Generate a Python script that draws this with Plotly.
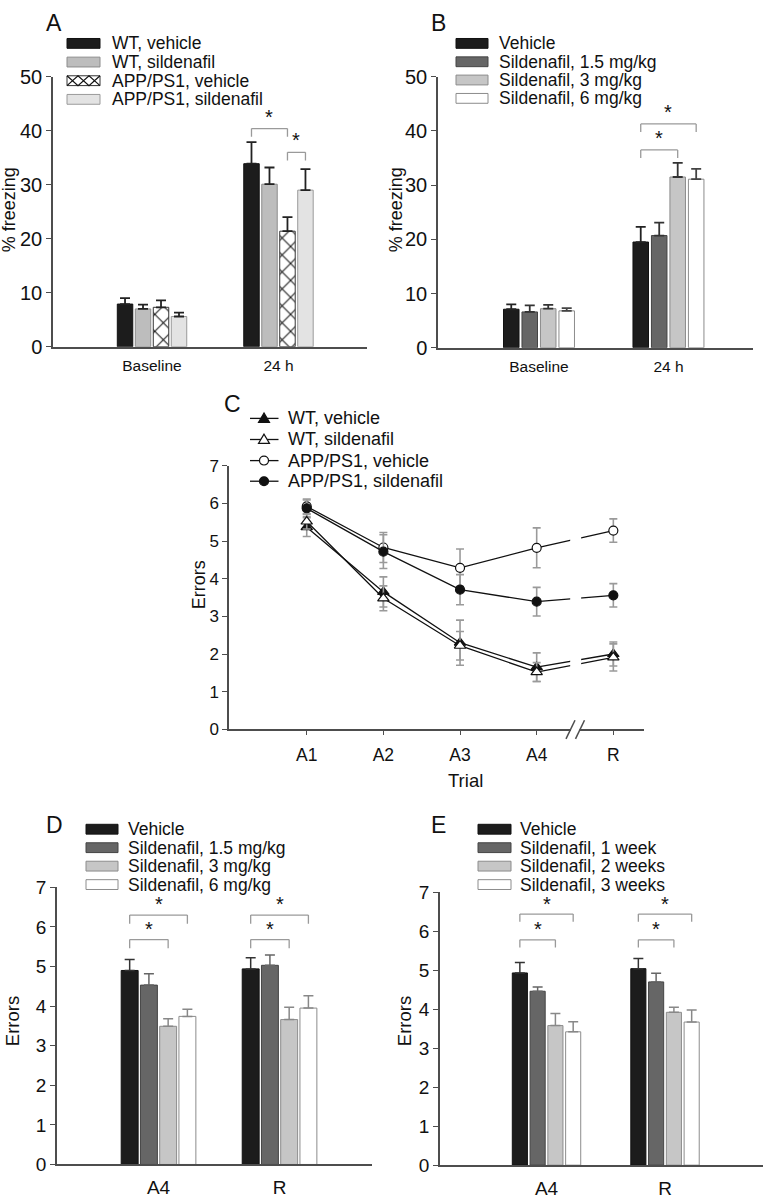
import plotly.graph_objects as go

W, H = 764, 1200
FONT = "Arial, 'Liberation Sans', Helvetica, sans-serif"
INK = "#111111"
AXIS = "#4d4d4d"
BRACKET = "#9a9a9a"

# ---------------- Panel A data (% freezing) ----------------
a_categories = ["Baseline", "24 h"]
a_names = ["WT, vehicle", "WT, sildenafil", "APP/PS1, vehicle", "APP/PS1, sildenafil"]
a_wt_vehicle = [7.9, 33.9]
a_wt_vehicle_sem = [1.1, 4.0]
a_wt_sildenafil = [7.0, 30.1]
a_wt_sildenafil_sem = [0.8, 3.1]
a_app_vehicle = [7.3, 21.4]
a_app_vehicle_sem = [1.3, 2.6]
a_app_sildenafil = [5.6, 29.0]
a_app_sildenafil_sem = [0.7, 3.9]
a_brackets = [("24 h", 0, 2, 40.4), ("24 h", 2, 3, 36.0)]
a_yticks = [0, 10, 20, 30, 40, 50]

# ---------------- Panel B data (% freezing) ----------------
b_categories = ["Baseline", "24 h"]
b_names = ["Vehicle", "Sildenafil, 1.5 mg/kg", "Sildenafil, 3 mg/kg", "Sildenafil, 6 mg/kg"]
b_vehicle = [7.1, 19.5]
b_vehicle_sem = [0.9, 2.8]
b_sild_15 = [6.6, 20.7]
b_sild_15_sem = [1.2, 2.4]
b_sild_3 = [7.2, 31.5]
b_sild_3_sem = [0.7, 2.6]
b_sild_6 = [6.8, 31.1]
b_sild_6_sem = [0.5, 1.9]
b_brackets = [("24 h", 0, 2, 36.5), ("24 h", 0, 3, 41.3)]
b_yticks = [0, 10, 20, 30, 40, 50]

# ---------------- Panel C data (errors per trial) ----------------
c_trials = ["A1", "A2", "A3", "A4", "R"]
c_names = ["WT, vehicle", "WT, sildenafil", "APP/PS1, vehicle", "APP/PS1, sildenafil"]
c_wt_vehicle = [5.37, 3.65, 2.30, 1.65, 2.00]
c_wt_vehicle_sem = [0.25, 0.40, 0.60, 0.38, 0.32]
c_wt_sildenafil = [5.52, 3.48, 2.22, 1.52, 1.91]
c_wt_sildenafil_sem = [0.20, 0.33, 0.38, 0.25, 0.36]
c_app_vehicle = [5.92, 4.83, 4.29, 4.82, 5.28]
c_app_vehicle_sem = [0.20, 0.40, 0.50, 0.53, 0.31]
c_app_sildenafil = [5.87, 4.72, 3.71, 3.39, 3.56]
c_app_sildenafil_sem = [0.22, 0.45, 0.40, 0.38, 0.31]
c_yticks = [0, 1, 2, 3, 4, 5, 6, 7]

# ---------------- Panel D data (errors, dose) ----------------
d_categories = ["A4", "R"]
d_names = ["Vehicle", "Sildenafil, 1.5 mg/kg", "Sildenafil, 3 mg/kg", "Sildenafil, 6 mg/kg"]
d_vehicle = [4.90, 4.94]
d_vehicle_sem = [0.28, 0.28]
d_sild_15 = [4.53, 5.03]
d_sild_15_sem = [0.29, 0.26]
d_sild_3 = [3.49, 3.66]
d_sild_3_sem = [0.19, 0.31]
d_sild_6 = [3.74, 3.95]
d_sild_6_sem = [0.18, 0.31]
d_brackets = [("A4", 0, 2, 5.68), ("A4", 0, 3, 6.30), ("R", 0, 2, 5.68), ("R", 0, 3, 6.30)]
d_yticks = [0, 1, 2, 3, 4, 5, 6, 7]

# ---------------- Panel E data (errors, duration) ----------------
e_categories = ["A4", "R"]
e_names = ["Vehicle", "Sildenafil, 1 week", "Sildenafil, 2 weeks", "Sildenafil, 3 weeks"]
e_vehicle = [4.93, 5.04]
e_vehicle_sem = [0.27, 0.26]
e_sild_1w = [4.46, 4.70]
e_sild_1w_sem = [0.11, 0.22]
e_sild_2w = [3.58, 3.92]
e_sild_2w_sem = [0.31, 0.13]
e_sild_3w = [3.42, 3.67]
e_sild_3w_sem = [0.26, 0.31]
e_brackets = [("A4", 0, 2, 5.78), ("A4", 0, 3, 6.44), ("R", 0, 2, 5.78), ("R", 0, 3, 6.44)]
e_yticks = [0, 1, 2, 3, 4, 5, 6, 7]


def px(x):
    return x / W


def py(y):
    return 1 - y / H


fig = go.Figure()
shapes = []
annotations = []


def label(x, y, text, size, xanchor="center", yanchor="middle", **kw):
    d = dict(x=px(x), y=py(y), xref="paper", yref="paper", text=text, showarrow=False,
             xanchor=xanchor, yanchor=yanchor, font=dict(family=FONT, size=size, color=INK))
    d.update(kw)
    annotations.append(d)


HATCH = dict(shape="x", fgcolor="#111111", bgcolor="white", size=12, solidity=0.16, fillmode="replace")


def bar_panel(sfx, cats, names, series, sems, fills, outlines, errcolors, patterns,
              gap, groupgap, err_thick, err_w, brackets, drop, star_dy):
    n = len(series)
    slot = (1 - gap) / n
    width = slot * (1 - groupgap)
    centers = []
    for k in range(n):
        offset = -(1 - gap) / 2 + k * slot + slot * groupgap / 2
        centers.append(offset + width / 2)
        marker = dict(color=fills[k], line=dict(color=outlines[k], width=1))
        if patterns[k]:
            marker["pattern"] = patterns[k]
        fig.add_trace(go.Bar(
            x=cats, y=series[k], name=names[k], width=width, offset=offset, marker=marker,
            error_y=dict(type="data", symmetric=False, array=sems[k], arrayminus=[0] * len(cats),
                         color=errcolors[k], thickness=err_thick, width=err_w),
            xaxis="x" + sfx, yaxis="y" + sfx, showlegend=False))
    for cat, i, j, level in brackets:
        c = cats.index(cat)
        xi, xj = c + centers[i], c + centers[j]
        for x0, y0, x1, y1 in [(xi, level - drop, xi, level), (xi, level, xj, level),
                               (xj, level, xj, level - drop)]:
            shapes.append(dict(type="line", xref="x" + sfx, yref="y" + sfx, x0=x0, y0=y0, x1=x1, y1=y1,
                               line=dict(color=BRACKET, width=1.3)))
        annotations.append(dict(x=(xi + xj) / 2, y=level + star_dy, xref="x" + sfx, yref="y" + sfx,
                                text="*", showarrow=False, xanchor="center", yanchor="middle",
                                font=dict(family=FONT, size=20, color=INK)))


def bar_legend(x0, x1, xt, rows, names, fills, outlines, hatch, size):
    for k, (yc, name) in enumerate(zip(rows, names)):
        shapes.append(dict(type="rect", xref="paper", yref="paper", x0=px(x0), x1=px(x1),
                           y0=py(yc + 5), y1=py(yc - 5), fillcolor=fills[k],
                           line=dict(color=outlines[k], width=1)))
        if hatch[k]:
            w = (x1 - x0) / 3
            top, bot = yc - 5, yc + 5
            p1 = "M{},{}".format(px(x0), py(top))
            p2 = "M{},{}".format(px(x0), py(bot))
            for s in range(3):
                yy1 = bot if s % 2 == 0 else top
                yy2 = top if s % 2 == 0 else bot
                p1 += " L{},{}".format(px(x0 + w * (s + 1)), py(yy1))
                p2 += " L{},{}".format(px(x0 + w * (s + 1)), py(yy2))
            shapes.append(dict(type="path", xref="paper", yref="paper", path=p1 + " " + p2,
                               line=dict(color="#111111", width=1.2)))
        label(xt, yc, name, size, xanchor="left")


# ---------------- Panel A ----------------
a_fills = ["#1c1c1c", "#bdbdbd", "white", "#e3e3e3"]
a_lines = ["#111111", "#8c8c8c", "#333333", "#9a9a9a"]
bar_panel("", a_categories, a_names,
          [a_wt_vehicle, a_wt_sildenafil, a_app_vehicle, a_app_sildenafil],
          [a_wt_vehicle_sem, a_wt_sildenafil_sem, a_app_vehicle_sem, a_app_sildenafil_sem],
          a_fills, a_lines, ["#222222"] * 4, [None, None, HATCH, None],
          0.431, 0.14, 1.8, 5, a_brackets, 1.5, 2.2)
bar_legend(67, 100, 110, [33, 52, 71, 90], a_names, a_fills, a_lines, [False, False, True, False], 17.5)

# ---------------- Panel B ----------------
b_fills = ["#1c1c1c", "#666666", "#c6c6c6", "white"]
b_lines = ["#111111", "#444444", "#8c8c8c", "#8c8c8c"]
bar_panel("2", b_categories, b_names,
          [b_vehicle, b_sild_15, b_sild_3, b_sild_6],
          [b_vehicle_sem, b_sild_15_sem, b_sild_3_sem, b_sild_6_sem],
          b_fills, b_lines, ["#222222", "#333333", "#333333", "#444444"], [None] * 4,
          0.429, 0.16, 1.8, 5, b_brackets, 1.5, 2.2)
bar_legend(456, 488, 497, [33, 51.7, 70.3, 89], b_names, b_fills, b_lines, [False] * 4, 17.5)

# ---------------- Panel D ----------------
bar_panel("4", d_categories, d_names,
          [d_vehicle, d_sild_15, d_sild_3, d_sild_6],
          [d_vehicle_sem, d_sild_15_sem, d_sild_3_sem, d_sild_6_sem],
          b_fills, b_lines, ["#333333", "#666666", "#888888", "#888888"], [None] * 4,
          0.364, 0.12, 1.5, 5, d_brackets, 0.22, 0.27)
bar_legend(86, 118, 126, [833.5, 852.3, 871.1, 889.9], d_names, b_fills, b_lines, [False] * 4, 17.5)

# ---------------- Panel E ----------------
bar_panel("5", e_categories, e_names,
          [e_vehicle, e_sild_1w, e_sild_2w, e_sild_3w],
          [e_vehicle_sem, e_sild_1w_sem, e_sild_2w_sem, e_sild_3w_sem],
          b_fills, b_lines, ["#333333", "#666666", "#888888", "#888888"], [None] * 4,
          0.40, 0.15, 1.5, 5, e_brackets, 0.2, 0.27)
bar_legend(478, 511, 518, [833.5, 852.3, 871.1, 889.9], e_names, b_fills, b_lines, [False] * 4, 17.5)

# ---------------- Panel C ----------------
c_series = [c_wt_vehicle, c_wt_sildenafil, c_app_vehicle, c_app_sildenafil]
c_sems = [c_wt_vehicle_sem, c_wt_sildenafil_sem, c_app_vehicle_sem, c_app_sildenafil_sem]
c_symbols = ["triangle-up", "triangle-up", "circle", "circle"]
c_mfill = [INK, "white", "white", INK]
for k in [2, 3, 0, 1]:
    fig.add_trace(go.Scatter(
        x=c_trials, y=c_series[k], name=c_names[k], mode="lines+markers",
        line=dict(color=INK, width=1.3),
        marker=dict(symbol=c_symbols[k], size=9 if k >= 2 else 10, color=c_mfill[k],
                    line=dict(color=INK, width=1.2)),
        error_y=dict(type="data", array=c_sems[k], color="#9a9a9a", thickness=1.6, width=4),
        xaxis="x3", yaxis="y3", showlegend=False))

# gap in the A4 -> R segments (axis break)
shapes.append(dict(type="rect", xref="x3", yref="y3", x0=3.437, x1=3.58, y0=0.15, y1=6.95,
                   fillcolor="white", line=dict(width=0), layer="above"))
shapes.append(dict(type="rect", xref="paper", yref="paper", x0=px(571), x1=px(579.5), y0=py(735),
                   y1=py(728), fillcolor="white", line=dict(width=0), layer="above"))
for sx in (566, 575.5):
    shapes.append(dict(type="line", xref="paper", yref="paper", x0=px(sx), y0=py(741.5),
                       x1=px(sx + 9), y1=py(722.5), line=dict(color=AXIS, width=1.5), layer="above"))

# legend C (drawn)
c_rows = [415, 436.5, 458, 479]
for k, yc in enumerate(c_rows):
    shapes.append(dict(type="line", xref="paper", yref="paper", x0=px(250), x1=px(278.5),
                       y0=py(yc), y1=py(yc), line=dict(color=INK, width=1.3)))
    if c_symbols[k] == "circle":
        shapes.append(dict(type="circle", xref="paper", yref="paper", x0=px(259.5), x1=px(268.5),
                           y0=py(yc + 4.5), y1=py(yc - 4.5), fillcolor=c_mfill[k],
                           line=dict(color=INK, width=1.2)))
    else:
        path = "M{},{} L{},{} L{},{} Z".format(px(264), py(yc - 5.5), px(258.5), py(yc + 4),
                                               px(269.5), py(yc + 4))
        shapes.append(dict(type="path", xref="paper", yref="paper", path=path, fillcolor=c_mfill[k],
                           line=dict(color=INK, width=1.2)))
    label(286, yc, c_names[k], 18, xanchor="left")


# ---------------- Axes ----------------
def yaxis(dom_px, rng, ticks, size, anchor):
    return dict(domain=[py(dom_px[0]), py(dom_px[1])], range=rng, tickvals=ticks, showline=True,
                linecolor=AXIS, linewidth=1.5, ticks="outside", ticklen=5, tickcolor=AXIS, tickwidth=1.3,
                showgrid=False, zeroline=False, fixedrange=True, anchor=anchor,
                tickfont=dict(family=FONT, size=size, color=INK))


def xaxis(dom_px, rng, anchor, size, ticks="", ticklen=0, standoff=None):
    d = dict(domain=[px(dom_px[0]), px(dom_px[1])], range=rng, anchor=anchor, type="category",
             showline=True, linecolor=AXIS, linewidth=1.5, showgrid=False, zeroline=False,
             ticks=ticks, ticklen=ticklen, tickcolor=AXIS if ticks else "rgba(0,0,0,0)",
             tickfont=dict(family=FONT, size=size, color=INK), fixedrange=True)
    if standoff is not None:
        d["ticklabelstandoff"] = standoff
    return d


fig.update_layout(
    width=W, height=H, margin=dict(l=0, r=0, t=0, b=0), autosize=False,
    paper_bgcolor="white", plot_bgcolor="white", barmode="overlay", showlegend=False,
    font=dict(family=FONT, color=INK),
    xaxis=xaxis((53, 367), [-0.783, 1.70], "y", 15.5, ticks="outside", ticklen=0, standoff=4),
    yaxis=yaxis((342, 67), [0, 50], a_yticks, 20, "x"),
    xaxis2=xaxis((438, 753), [-0.78, 1.653], "y2", 15.5, ticks="outside", ticklen=0, standoff=4),
    yaxis2=yaxis((343, 67), [0, 50], b_yticks, 20, "x2"),
    xaxis3=xaxis((229, 644), [-1.014, 4.40], "y3", 17.5, ticks="outside", ticklen=4, standoff=5),
    yaxis3=yaxis((731.7, 463.3), [0, 7], c_yticks, 17, "x3"),
    xaxis4=xaxis((57, 372), [-0.839, 1.764], "y4", 19, ticks="outside", ticklen=0, standoff=5),
    yaxis4=yaxis((1175, 892.7), [0, 7], d_yticks, 19, "x4"),
    xaxis5=xaxis((440, 763), [-0.899, 1.827], "y5", 19, ticks="outside", ticklen=0, standoff=5),
    yaxis5=yaxis((1175.7, 897.7), [0, 7], e_yticks, 19, "x5"),
)

# axis titles
label(9, 203, "% freezing", 18, textangle=-90)
label(396, 203, "% freezing", 18, textangle=-90)
label(199, 585, "Errors", 18, textangle=-90)
label(465, 784, "Trial", 18.5)
label(12, 1029, "Errors", 18.5, textangle=-90)
label(404, 1029, "Errors", 18.5, textangle=-90)

# panel letters
label(53.5, 12.5, "A", 23)
label(438.5, 12.5, "B", 23)
label(232, 400, "C", 23)
label(54, 829, "D", 23)
label(438.5, 829, "E", 23)

fig.update_layout(shapes=shapes, annotations=annotations)
fig.write_html("out.html", config={"displayModeBar": False},
               post_script="document.body.style.margin='0px';document.body.style.overflow='hidden';")
